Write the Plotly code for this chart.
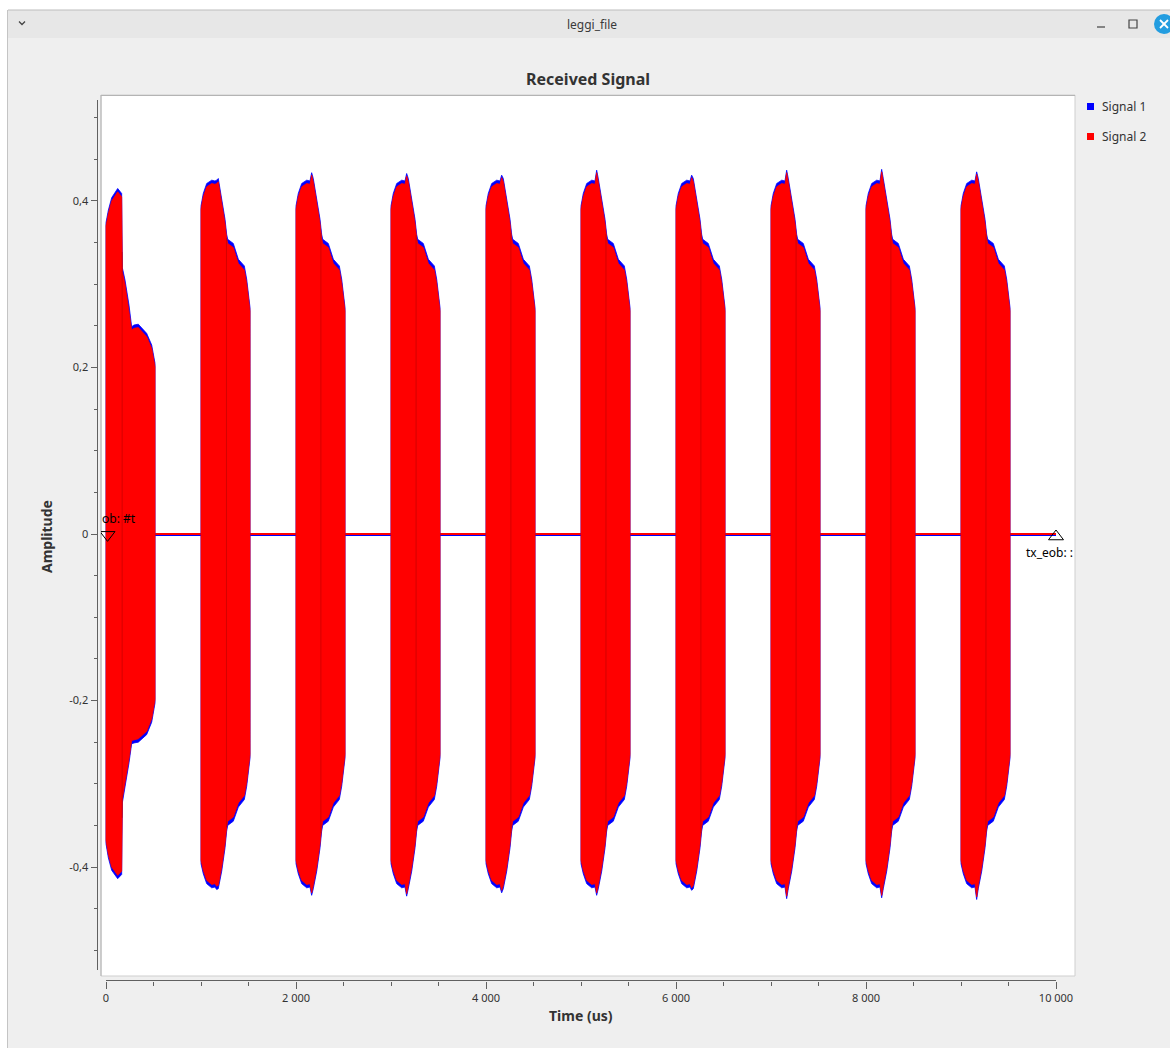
import numpy as np
import plotly.graph_objects as go

W, H = 1170, 1048

# ---------------- data ----------------
BURST_STARTS = [0, 1000, 2000, 3000, 4000, 5000, 6000, 7000, 8000, 9000]

# first burst (its own envelope shape)
B1_OFF = [0, 25, 60, 123, 165, 172, 200, 242, 270, 295, 340, 428, 481, 516]
B1_UP_S2 = [0.370, 0.385, 0.400, 0.411, 0.405, 0.315, 0.300, 0.270, 0.245, 0.247, 0.248, 0.237, 0.223, 0.201]
B1_LO_S2 = [-0.368, -0.385, -0.400, -0.410, -0.405, -0.318, -0.300, -0.270, -0.248, -0.247, -0.246, -0.237, -0.222, -0.199]
B1_UP_S1 = [0.374, 0.389, 0.404, 0.415, 0.409, 0.320, 0.305, 0.275, 0.249, 0.251, 0.252, 0.241, 0.227, 0.205]
B1_LO_S1 = [-0.372, -0.389, -0.404, -0.414, -0.409, -0.323, -0.305, -0.275, -0.252, -0.251, -0.250, -0.241, -0.226, -0.203]

# typical envelope of bursts 2..10 (offset from burst start, us)
T_OFF = [0, 24, 60, 113, 147, 165, 182, 218, 253, 270, 281, 340, 393, 456, 481, 516]
T_UP_S2 = [0.390, 0.405, 0.417, 0.421, 0.420, None, 0.423, 0.399, 0.373, 0.355, 0.349, 0.344, 0.325, 0.317, 0.301, 0.268]
T_LO_S2 = [-0.392, -0.404, -0.416, -0.421, -0.420, None, -0.422, -0.400, -0.372, -0.352, -0.345, -0.340, -0.323, -0.314, -0.298, -0.265]
T_UP_S1 = [0.394, 0.409, 0.421, 0.425, 0.424, None, 0.427, 0.404, 0.378, 0.360, 0.354, 0.349, 0.330, 0.322, 0.306, 0.272]
T_LO_S1 = [-0.396, -0.408, -0.420, -0.425, -0.424, None, -0.426, -0.405, -0.377, -0.357, -0.350, -0.345, -0.328, -0.319, -0.303, -0.269]

# spike peaks of bursts 2..10
PEAK_UP_S2 = [0.421, 0.431, 0.430, 0.428, 0.434, 0.428, 0.434, 0.435, 0.432]
PEAK_LO_S2 = [-0.423, -0.431, -0.432, -0.428, -0.431, -0.425, -0.435, -0.434, -0.436]
PEAK_UP_S1 = [0.425, 0.434, 0.433, 0.431, 0.437, 0.431, 0.437, 0.438, 0.435]
PEAK_LO_S1 = [-0.427, -0.434, -0.435, -0.431, -0.434, -0.428, -0.438, -0.437, -0.439]

# darker seam inside each burst (offset, us)
SEAM_OFF = [170, 268, 262, 264, 262, 263, 262, 264, 262, 263]

# baseline between bursts (flat near zero)
BASE_T = [0, 516, 1000, 1516, 2000, 2516, 3000, 3516, 4000, 4516, 5000,
          5516, 6000, 6516, 7000, 7516, 8000, 8516, 9000, 9516, 10000]
BASE_S2 = [0.0, 0.0, 0.0, 0.0, 0.0, 0.0, 0.0, 0.0, 0.0, 0.0, 0.0,
           0.0, 0.0, 0.0, 0.0, 0.0, 0.0, 0.0, 0.0, 0.0, 0.0]
BASE_S1 = [-0.0012, -0.0012, -0.0012, -0.0012, -0.0012, -0.0012, -0.0012, -0.0012, -0.0012, -0.0012, -0.0012,
           -0.0012, -0.0012, -0.0012, -0.0012, -0.0012, -0.0012, -0.0012, -0.0012, -0.0012, -0.0012]

# stream tags
TAG_T = [16, 10000]
TAG_Y = [-0.001, -0.003]

X_TICKS = [0, 2000, 4000, 6000, 8000, 10000]
X_TICKTEXT = ["0", "2 000", "4 000", "6 000", "8 000", "10 000"]
X_MINOR = [500, 1000, 1500, 2500, 3000, 3500, 4500, 5000, 5500, 6500, 7000, 7500, 8500, 9000, 9500]
Y_TICKS = [-0.4, -0.2, 0, 0.2, 0.4]
Y_TICKTEXT = ["-0,4", "-0,2", "0", "0,2", "0,4"]
Y_MINOR = [-0.5, -0.45, -0.35, -0.3, -0.25, -0.15, -0.1, -0.05, 0.05, 0.1, 0.15, 0.25, 0.3, 0.35, 0.45, 0.5]

SERIES = ["Signal 1", "Signal 2"]
COLORS = ["#0000ff", "#ff0000"]


def px(x):
    return x / W


def py(y):
    return 1 - y / H


def envelope(burst_idx, sig):
    if burst_idx == 0:
        offs = B1_OFF
        up = B1_UP_S1 if sig == 1 else B1_UP_S2
        lo = B1_LO_S1 if sig == 1 else B1_LO_S2
    else:
        offs = T_OFF
        up = list(T_UP_S1 if sig == 1 else T_UP_S2)
        lo = list(T_LO_S1 if sig == 1 else T_LO_S2)
        up[5] = (PEAK_UP_S1 if sig == 1 else PEAK_UP_S2)[burst_idx - 1]
        lo[5] = (PEAK_LO_S1 if sig == 1 else PEAK_LO_S2)[burst_idx - 1]
    return offs, up, lo


def polygons(sig):
    xs, ys = [], []
    for i, s in enumerate(BURST_STARTS):
        offs, up, lo = envelope(i, sig)
        xs += [s + o for o in offs] + [s + o for o in offs[::-1]] + [s + offs[0], None]
        ys += list(up) + list(lo[::-1]) + [up[0], None]
    return xs, ys


fig = go.Figure()

# baselines
fig.add_trace(go.Scatter(x=BASE_T, y=BASE_S1, mode="lines", line=dict(color=COLORS[0], width=2),
                         showlegend=False, hoverinfo="skip"))
fig.add_trace(go.Scatter(x=BASE_T, y=BASE_S2, mode="lines", line=dict(color=COLORS[1], width=2),
                         showlegend=False, hoverinfo="skip"))

# bursts
for sig, col in ((1, COLORS[0]), (2, COLORS[1])):
    xs, ys = polygons(sig)
    fig.add_trace(go.Scatter(x=xs, y=ys, mode="lines", fill="toself", fillcolor=col,
                             line=dict(color=col, width=0.8), name=SERIES[sig - 1],
                             showlegend=False, hoverinfo="skip"))

# seams
sx, sy = [], []
for i, s in enumerate(BURST_STARTS):
    offs, up, lo = envelope(i, 2)
    u = float(np.interp(SEAM_OFF[i], offs, up))
    l = float(np.interp(SEAM_OFF[i], offs, lo))
    sx += [s + SEAM_OFF[i], s + SEAM_OFF[i], None]
    sy += [u - 0.002, l + 0.002, None]
fig.add_trace(go.Scatter(x=sx, y=sy, mode="lines", line=dict(color="rgba(150,0,0,0.4)", width=1),
                         showlegend=False, hoverinfo="skip"))

# tags
fig.add_trace(go.Scatter(x=TAG_T, y=TAG_Y, mode="markers",
                         marker=dict(symbol=["triangle-down-open", "triangle-up-open"], size=13,
                                     color="black", line=dict(color="black", width=1)),
                         showlegend=False, hoverinfo="skip"))

shapes = []
# window body, title bar
shapes.append(dict(type="rect", xref="paper", yref="paper", x0=px(8), x1=px(1170), y0=py(1048), y1=py(38),
                   fillcolor="#efefef", line=dict(width=0), layer="below"))
shapes.append(dict(type="rect", xref="paper", yref="paper", x0=px(8), x1=px(1170), y0=py(38), y1=py(10),
                   fillcolor="#e7e7e7", line=dict(width=0), layer="below"))
shapes.append(dict(type="line", xref="paper", yref="paper", x0=px(8), x1=px(1170), y0=py(10), y1=py(10),
                   line=dict(color="#bdbdbd", width=1), layer="below"))
shapes.append(dict(type="line", xref="paper", yref="paper", x0=px(7.5), x1=px(7.5), y0=py(10), y1=py(1048),
                   line=dict(color="#c4c4c4", width=1), layer="below"))
# canvas
shapes.append(dict(type="rect", xref="paper", yref="paper", x0=px(101), x1=px(1075), y0=py(976), y1=py(95),
                   fillcolor="white", line=dict(color="#cfcfcf", width=1), layer="below"))
shapes.append(dict(type="line", xref="paper", yref="paper", x0=px(101), x1=px(101), y0=py(976), y1=py(95),
                   line=dict(color="#b4b4b4", width=1), layer="below"))
shapes.append(dict(type="line", xref="paper", yref="paper", x0=px(101), x1=px(1075), y0=py(95.5), y1=py(95.5),
                   line=dict(color="#b4b4b4", width=1), layer="below"))
# axis backbones
shapes.append(dict(type="line", xref="paper", yref="paper", x0=px(97.5), x1=px(97.5), y0=py(100), y1=py(970),
                   line=dict(color="#606060", width=1)))
shapes.append(dict(type="line", xref="paper", yref="paper", x0=px(106), x1=px(1056), y0=py(980.5), y1=py(980.5),
                   line=dict(color="#606060", width=1)))
# legend swatches
shapes.append(dict(type="rect", xref="paper", yref="paper", x0=px(1087), x1=px(1094), y0=py(110), y1=py(103),
                   fillcolor=COLORS[0], line=dict(width=0)))
shapes.append(dict(type="rect", xref="paper", yref="paper", x0=px(1087), x1=px(1094), y0=py(140), y1=py(133),
                   fillcolor=COLORS[1], line=dict(width=0)))
# window buttons
shapes.append(dict(type="path", xref="paper", yref="paper",
                   path=f"M {px(19)} {py(21.5)} L {px(22)} {py(24.5)} L {px(25)} {py(21.5)}",
                   line=dict(color="#444", width=1.3)))
shapes.append(dict(type="line", xref="paper", yref="paper", x0=px(1097), x1=px(1105), y0=py(27), y1=py(27),
                   line=dict(color="#444", width=1.2)))
shapes.append(dict(type="rect", xref="paper", yref="paper", x0=px(1129), x1=px(1137), y0=py(28), y1=py(20),
                   line=dict(color="#444", width=1.2)))
shapes.append(dict(type="circle", xref="paper", yref="paper", x0=px(1154), x1=px(1174), y0=py(34), y1=py(14),
                   fillcolor="#239de0", line=dict(width=0)))
shapes.append(dict(type="line", xref="paper", yref="paper", x0=px(1160), x1=px(1168), y0=py(20), y1=py(28),
                   line=dict(color="white", width=1.8)))
shapes.append(dict(type="line", xref="paper", yref="paper", x0=px(1160), x1=px(1168), y0=py(28), y1=py(20),
                   line=dict(color="white", width=1.8)))

FONT = "Noto Sans"


def ann(text, x, y, size, color="#333333", xanchor="center", angle=0):
    return dict(text=text, x=px(x), y=py(y), xref="paper", yref="paper", showarrow=False,
                xanchor=xanchor, yanchor="middle", textangle=angle,
                font=dict(family=FONT, size=size, color=color))


annotations = [
    ann("leggi_file", 592, 24, 12, "#3a3a3a"),
    ann("<b>Received Signal</b>", 588, 79, 16),
    ann("<b>Amplitude</b>", 46, 537, 14, angle=-90),
    ann("<b>Time (us)</b>", 581, 1015, 14),
    ann(SERIES[0], 1100, 106, 12, xanchor="left"),
    ann(SERIES[1], 1100, 136, 12, xanchor="left"),
    ann("ob: #t", 100, 518, 12, "black", xanchor="left"),
    ann("tx_eob: :", 1024, 552, 12, "black", xanchor="left"),
]

fig.update_layout(
    width=W, height=H,
    margin=dict(l=0, r=0, t=0, b=0),
    paper_bgcolor="white",
    plot_bgcolor="rgba(0,0,0,0)",
    showlegend=False,
    shapes=shapes,
    annotations=annotations,
    font=dict(family=FONT, size=11, color="#333333"),
    xaxis=dict(domain=[px(101), px(1075)], range=[-52.6, 10200], anchor="free", position=1 - 980.5 / H,
               showgrid=False, zeroline=False, showline=False,
               tickmode="array", tickvals=X_TICKS, ticktext=X_TICKTEXT,
               ticks="outside", ticklen=7, tickcolor="#606060", tickwidth=1,
               minor=dict(tickmode="array", tickvals=X_MINOR, ticks="outside", ticklen=4,
                          tickcolor="#606060", tickwidth=1, showgrid=False),
               tickfont=dict(family=FONT, size=11, color="#333333")),
    yaxis=dict(domain=[1 - 975 / H, 1 - 95 / H], range=[-0.5297, 0.5273], anchor="free", position=px(97.5),
               showgrid=False, zeroline=False, showline=False,
               tickmode="array", tickvals=Y_TICKS, ticktext=Y_TICKTEXT,
               ticks="outside", ticklen=7, tickcolor="#606060", tickwidth=1,
               minor=dict(tickmode="array", tickvals=Y_MINOR, ticks="outside", ticklen=4,
                          tickcolor="#606060", tickwidth=1, showgrid=False),
               tickfont=dict(family=FONT, size=11, color="#333333")),
)

fig.write_html("out.html", config={"displayModeBar": False},
               post_script="document.body.style.margin='0';document.body.style.overflow='hidden';")
